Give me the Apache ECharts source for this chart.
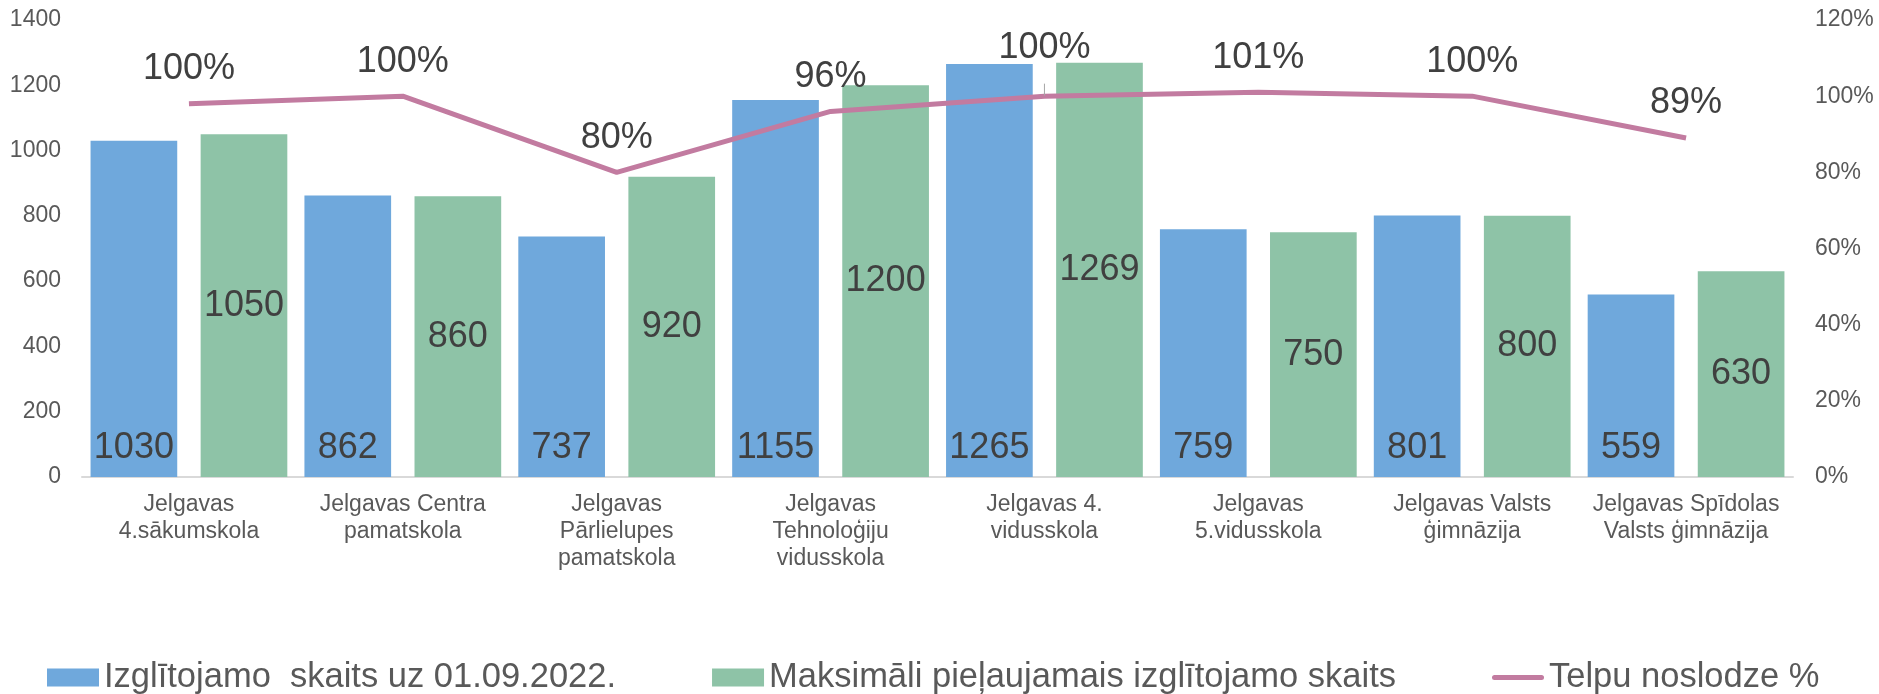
<!DOCTYPE html>
<html>
<head>
<meta charset="utf-8">
<script src="https://cdn.jsdelivr.net/npm/echarts@6/dist/echarts.min.js"></script>
<style>
  html, body { margin: 0; padding: 0; background: #fff; }
  #chart { width: 1879px; height: 694px; }
</style>
</head>
<body>
<div id="chart"></div>
<script>
  // skolas
  var categories = [
    'Jelgavas\n4.sākumskola',
    'Jelgavas Centra\npamatskola',
    'Jelgavas\nPārlielupes\npamatskola',
    'Jelgavas\nTehnoloģiju\nvidusskola',
    'Jelgavas 4.\nvidusskola',
    'Jelgavas\n5.vidusskola',
    'Jelgavas Valsts\nģimnāzija',
    'Jelgavas Spīdolas\nValsts ģimnāzija'
  ]
  var skaits = [1030, 862, 737, 1155, 1265, 759, 801, 559]
  var maksimali = [1050, 860, 920, 1200, 1269, 750, 800, 630]
  var noslodze = [98, 100, 80, 96, 100, 101, 100, 89]
  var noslodzeLabels = ['100%', '100%', '80%', '96%', '100%', '101%', '100%', '89%']

  var seriesNames = [
    'Izglītojamo  skaits uz 01.09.2022.',
    'Maksimāli pieļaujamais izglītojamo skaits',
    'Telpu noslodze %'
  ]

  var font = '"Liberation Sans", Arial, sans-serif'

  // etiķetes līnijai, 5. etiķete pacelta ar vadlīniju
  var labelData = noslodze.map(function (v, i) {
    var item = { value: v, label: { formatter: noslodzeLabels[i] } }
    if (i === 4) {
      item.label.offset = [0, -14]
      item.labelLine = { show: true, lineStyle: { color: '#a6a6a6', width: 1 } }
    }
    return item
  })

  var myChart = echarts.init(document.getElementById('chart'))
  var option = {
    animation: false,
    textStyle: { fontFamily: font },
    grid: { left: 82, right: 86, top: 20, bottom: 217 },
    legend: {
      left: 42,
      top: 655,
      itemWidth: 52,
      itemHeight: 18,
      itemGap: 96,
      textStyle: { fontSize: 34.5, color: '#595959', fontFamily: font },
      data: [
        { name: seriesNames[0], icon: 'rect' },
        { name: seriesNames[1], icon: 'rect' },
        { name: seriesNames[2], icon: 'path://M2.5,0 H49.5 A2.5,2.5 0 0 1 49.5,5 H2.5 A2.5,2.5 0 0 1 2.5,0 Z' }
      ]
    },
    xAxis: {
      type: 'category',
      data: categories,
      axisTick: { show: false },
      axisLine: { lineStyle: { color: '#d9d9d9', width: 2 } },
      axisLabel: {
        interval: 0,
        fontSize: 23,
        lineHeight: 27,
        color: '#595959',
        margin: 14
      }
    },
    yAxis: [
      {
        type: 'value',
        min: 0,
        max: 1400,
        interval: 200,
        splitLine: { show: false },
        axisLine: { show: false },
        axisLabel: {
          fontSize: 23, color: '#595959', margin: 21,
          formatter: function (v) { return String(v) }
        }
      },
      {
        type: 'value',
        min: 0,
        max: 120,
        interval: 20,
        splitLine: { show: false },
        axisLine: { show: false },
        axisLabel: { fontSize: 23, color: '#595959', margin: 22, formatter: '{value}%' }
      }
    ],
    series: [
      {
        name: seriesNames[0],
        type: 'bar',
        data: skaits,
        barCategoryGap: '8%',
        barGap: '27%',
        itemStyle: { color: '#6fa8dc' },
        label: {
          show: true,
          position: 'insideBottom',
          distance: 11,
          fontSize: 36,
          color: '#404040'
        }
      },
      {
        name: seriesNames[1],
        type: 'bar',
        data: maksimali,
        barCategoryGap: '8%',
        barGap: '27%',
        itemStyle: { color: '#8ec3a7' },
        label: {
          show: true,
          position: 'inside',
          fontSize: 36,
          color: '#404040'
        }
      },
      {
        name: seriesNames[2],
        type: 'line',
        yAxisIndex: 1,
        data: noslodze,
        symbol: 'none',
        z: 5,
        lineStyle: { color: '#c27ba0', width: 5 },
        itemStyle: { color: '#c27ba0' }
      },
      {
        // tikai etiķetes
        name: 'etiketes',
        type: 'line',
        yAxisIndex: 1,
        data: labelData,
        showSymbol: true,
        symbol: 'circle',
        symbolSize: 1,
        z: 6,
        silent: true,
        lineStyle: { width: 0, opacity: 0 },
        itemStyle: { color: 'transparent' },
        label: {
          show: true,
          position: 'top',
          distance: 16,
          fontSize: 36,
          color: '#404040'
        }
      }
    ]
  }
  myChart.setOption(option)
</script>
</body>
</html>
